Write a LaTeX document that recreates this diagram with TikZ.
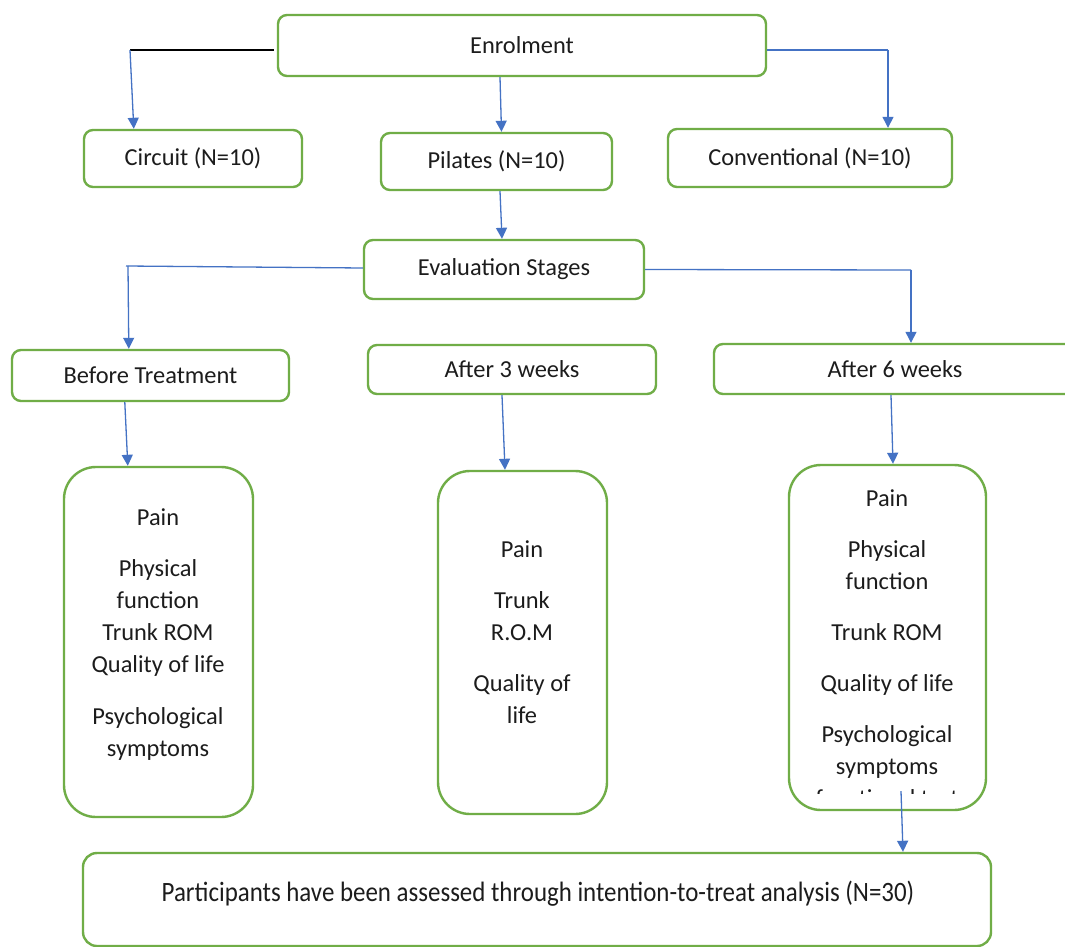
\documentclass[tikz,border=0pt]{standalone}
\usepackage{fontspec}
\setmainfont{Carlito}
\newfontfamily\narrowfont[FakeStretch=0.89]{Carlito}
\usepackage{xcolor}
\usepackage{tikz}
\usetikzlibrary{positioning,arrows.meta,calc}
\definecolor{flowgreen}{HTML}{70AD47}
\definecolor{flowblue}{HTML}{4472C4}
\definecolor{flowink}{HTML}{1C1C1C}

\begin{document}
\begin{tikzpicture}[
  x=1pt,y=-1pt,
  font=\fontsize{24.4}{32}\selectfont,
  box/.style={draw=flowgreen,line width=2.4pt,rounded corners=9pt,fill=white,
              text=flowink,align=center,inner sep=0pt},
  listbox/.style={draw=flowgreen,line width=2.4pt,rounded corners=32pt,fill=white,
                  inner sep=0pt},
  txt/.style={align=center,inner sep=0pt,text=flowink},
  arr/.style={-{Triangle[length=11pt,width=11pt]},flowblue,line width=1.3pt},
  bl/.style={flowblue,line width=1.3pt},
  blk/.style={black,line width=1.5pt}
]
\useasboundingbox[fill=white] (0,0) rectangle (1065,947);

% row 1: enrolment and the three groups
\node[box,minimum width=488pt,minimum height=61pt] (enrol) at (522,45.5) {Enrolment};
\node[box,minimum width=218pt,minimum height=57pt] (circuit) at (193,158.5) {Circuit (N=10)};
\node[box,minimum width=231pt,minimum height=57pt] (pilates) at (496.5,161.5) {Pilates (N=10)};
\node[box,minimum width=284pt,minimum height=58pt] (conv) at (810,158) {Conventional (N=10)};

% row 2: evaluation stages
\node[box,minimum width=280pt,minimum height=59pt] (evalst) at (504,269.5) {Evaluation Stages};
\node[box,minimum width=277pt,minimum height=51pt] (pretx) at (150.5,375.5) {Before Treatment};
\node[box,minimum width=288pt,minimum height=49pt] (wk3) at (512,369.5) {After 3 weeks};
\node[box,minimum width=362pt,minimum height=50pt] (wk6) at (895,369) {After 6 weeks};

% row 3: outcome lists
\node[listbox,minimum width=189pt,minimum height=350pt] (prebox) at (158.5,642) {};
\node[txt] (prelist) at (158,635)
  {Pain\\[19pt] Physical\\ function\\ Trunk ROM\\ Quality of life\\[20pt]
   Psychological\\ symptoms};
\node[listbox,minimum width=169pt,minimum height=343pt] (midbox) at (522.5,642.5) {};
\node[txt] (midlist) at (522,632)
  {Pain\\[19pt] Trunk\\ R.O.M\\[19pt] Quality of\\ life};
\node[listbox,minimum width=197pt,minimum height=345pt] (postbox) at (887.5,637.5) {};
\begin{scope}
  \clip (789,465) rectangle (986,793);
  \node[txt] (postlist) at (887,648)
    {Pain\\[19pt] Physical\\ function\\[19pt] Trunk ROM\\[19pt] Quality of life\\[19pt]
     Psychological\\ symptoms\\ functional test};
\end{scope}

% bottom: analysis
\node[listbox,rounded corners=14pt,minimum width=908pt,minimum height=93pt] (itt) at (537,899.5) {};
\node[txt] (itttxt) at (538,894)
  {\fontsize{28}{32}\narrowfont Participants have been assessed through intention-to-treat analysis (N=30)};

% connectors
\coordinate (lj1) at (130,50);
\coordinate (rj1) at (888,50);
\coordinate (lj2) at (126,266);
\coordinate (rj2) at (911,270);

\draw[blk] (lj1) -- ($(enrol.west |- lj1)+(-3,0)$);
\draw[arr] (lj1) -- ($(circuit.north west)+(51,0)$);
\draw[arr] ($(enrol.south)+(-22,0)$) -- ($(pilates.north)+(5,0)$);
\draw[bl] (enrol.east |- rj1) -- (rj1);
\draw[arr] (rj1) -- (rj1 |- conv.north);
\draw[arr] ($(pilates.south)+(3.5,0)$) -- ($(evalst.north)+(-2,0)$);
\draw[bl] ($(evalst.west)+(0,-1.5)$) -- (lj2);
\draw[arr] ($(lj2)+(2,0)$) -- ($(pretx.north west)+(118,0)$);
\draw[bl] (evalst.east) -- (rj2);
\draw[arr] (rj2) -- (rj2 |- wk6.north);
\draw[arr] ($(pretx.south west)+(114,0)$) -- ($(prebox.north west)+(65,0)$);
\draw[arr] ($(wk3.south)+(-10,0)$) -- ($(midbox.north)+(-17.5,0)$);
\draw[arr] ($(wk6.south)+(-4,0)$) -- ($(postbox.north)+(5.5,0)$);
\draw[arr] ($(postbox.south)+(13.5,-20)$) -- ($(itt.north)+(366,0)$);
\end{tikzpicture}
\end{document}
